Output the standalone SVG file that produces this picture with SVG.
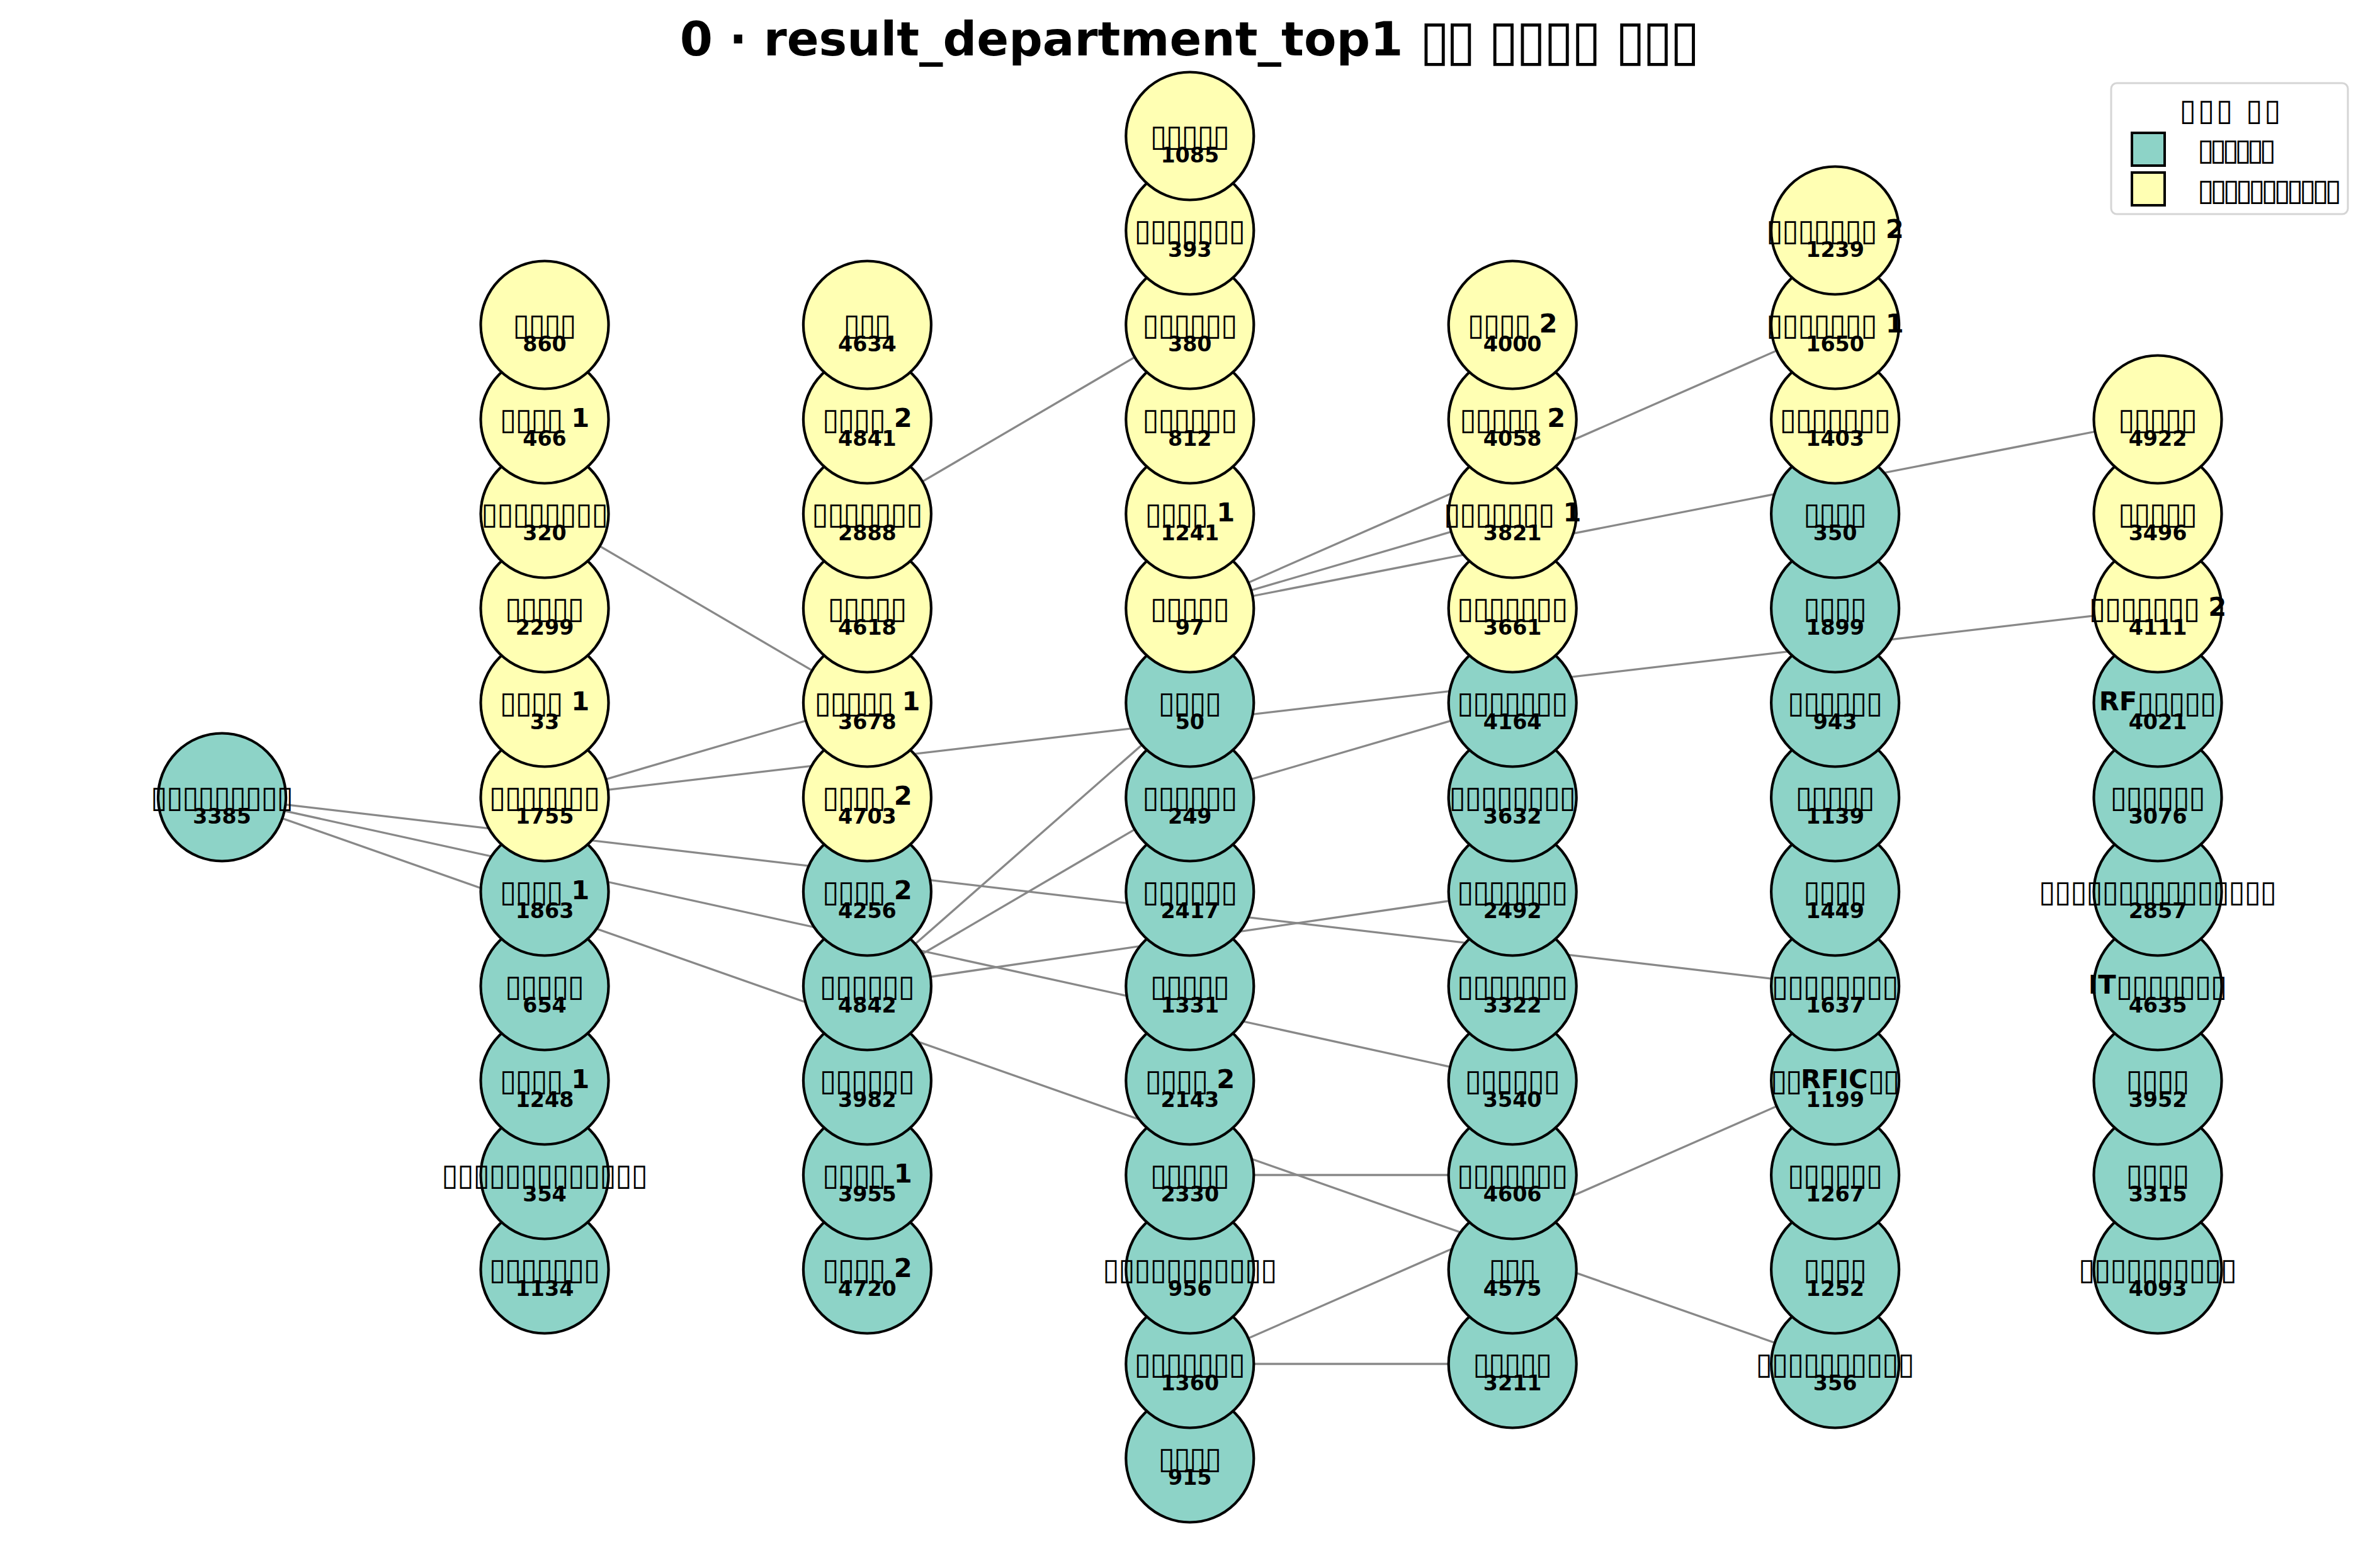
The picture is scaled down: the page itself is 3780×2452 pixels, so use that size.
<svg xmlns="http://www.w3.org/2000/svg" width="3780" height="2452" viewBox="0 0 3780 2452">
<style>
.n circle{stroke:#000;stroke-width:4.2}
.t{fill:#8dd3c7}
.y{fill:#ffffb3}
.lb{font-family:'DejaVu Sans',sans-serif;font-size:41.67px;font-weight:bold;text-anchor:middle;fill:#000}
.bx{font-weight:normal;font-size:48px;baseline-shift:-4px}
.id{font-family:'DejaVu Sans',sans-serif;font-size:33.3px;font-weight:bold;text-anchor:middle;fill:#000}
#edges line{stroke:#888;stroke-width:3.3}
.ttl{font-family:'DejaVu Sans',sans-serif;font-size:75px;font-weight:bold;text-anchor:middle}
.tb{font-size:88px;font-weight:normal;baseline-shift:-6px}
.lg{font-family:'DejaVu Sans',sans-serif;font-size:48px}
</style>
<rect width="3780" height="2452" fill="#fff"/>
<text class="ttl" x="1890" y="88">0 · result_department_top1 <tspan class="tb" textLength="90">▯▯</tspan> <tspan class="tb" textLength="180">▯▯▯▯</tspan> <tspan class="tb" textLength="135">▯▯▯</tspan></text>
<g id="edges">
<line x1="352.6" y1="1266" x2="2914.6" y2="1566"/>
<line x1="352.6" y1="1266" x2="2402.2" y2="1716"/>
<line x1="352.6" y1="1266" x2="2914.6" y2="2166"/>
<line x1="865" y1="816" x2="1377.4" y2="1116"/>
<line x1="865" y1="1266" x2="1377.4" y2="1116"/>
<line x1="865" y1="1266" x2="3427" y2="966"/>
<line x1="1377.4" y1="816" x2="1889.8" y2="516"/>
<line x1="1377.4" y1="1566" x2="1889.8" y2="1116"/>
<line x1="1377.4" y1="1566" x2="1889.8" y2="1266"/>
<line x1="1377.4" y1="1566" x2="2402.2" y2="1416"/>
<line x1="1889.8" y1="1266" x2="2402.2" y2="1116"/>
<line x1="1889.8" y1="966" x2="2914.6" y2="516"/>
<line x1="1889.8" y1="966" x2="2402.2" y2="816"/>
<line x1="1889.8" y1="966" x2="3427" y2="666"/>
<line x1="1889.8" y1="1866" x2="2402.2" y2="1866"/>
<line x1="1889.8" y1="2166" x2="2402.2" y2="2166"/>
<line x1="1889.8" y1="2166" x2="2914.6" y2="1716"/>
</g>
<g id="nodes">
<g id="n915" class="n"><circle class="t" cx="1889.8" cy="2316" r="101.5"/><text class="lb" x="1889.8" y="2328"><tspan class="bx" textLength="100.8">▯▯▯▯</tspan></text><text class="id" x="1889.8" y="2358">915</text></g>
<g id="n1360" class="n"><circle class="t" cx="1889.8" cy="2166" r="101.5"/><text class="lb" x="1889.8" y="2178"><tspan class="bx" textLength="176.4">▯▯▯▯▯▯▯</tspan></text><text class="id" x="1889.8" y="2208">1360</text></g>
<g id="n3211" class="n"><circle class="t" cx="2402.2" cy="2166" r="101.5"/><text class="lb" x="2402.2" y="2178"><tspan class="bx" textLength="126">▯▯▯▯▯</tspan></text><text class="id" x="2402.2" y="2208">3211</text></g>
<g id="n356" class="n"><circle class="t" cx="2914.6" cy="2166" r="101.5"/><text class="lb" x="2914.6" y="2178"><tspan class="bx" textLength="252">▯▯▯▯▯▯▯▯▯▯</tspan></text><text class="id" x="2914.6" y="2208">356</text></g>
<g id="n1134" class="n"><circle class="t" cx="865" cy="2016" r="101.5"/><text class="lb" x="865" y="2028"><tspan class="bx" textLength="176.4">▯▯▯▯▯▯▯</tspan></text><text class="id" x="865" y="2058">1134</text></g>
<g id="n4720" class="n"><circle class="t" cx="1377.4" cy="2016" r="101.5"/><text class="lb" x="1377.4" y="2028"><tspan class="bx" textLength="100.8">▯▯▯▯</tspan> 2</text><text class="id" x="1377.4" y="2058">4720</text></g>
<g id="n956" class="n"><circle class="t" cx="1889.8" cy="2016" r="101.5"/><text class="lb" x="1889.8" y="2028"><tspan class="bx" textLength="277.2">▯▯▯▯▯▯▯▯▯▯▯</tspan></text><text class="id" x="1889.8" y="2058">956</text></g>
<g id="n4575" class="n"><circle class="t" cx="2402.2" cy="2016" r="101.5"/><text class="lb" x="2402.2" y="2028"><tspan class="bx" textLength="75.6">▯▯▯</tspan></text><text class="id" x="2402.2" y="2058">4575</text></g>
<g id="n1252" class="n"><circle class="t" cx="2914.6" cy="2016" r="101.5"/><text class="lb" x="2914.6" y="2028"><tspan class="bx" textLength="100.8">▯▯▯▯</tspan></text><text class="id" x="2914.6" y="2058">1252</text></g>
<g id="n4093" class="n"><circle class="t" cx="3427" cy="2016" r="101.5"/><text class="lb" x="3427" y="2028"><tspan class="bx" textLength="252">▯▯▯▯▯▯▯▯▯▯</tspan></text><text class="id" x="3427" y="2058">4093</text></g>
<g id="n354" class="n"><circle class="t" cx="865" cy="1866" r="101.5"/><text class="lb" x="865" y="1878"><tspan class="bx" textLength="327.6">▯▯▯▯▯▯▯▯▯▯▯▯▯</tspan></text><text class="id" x="865" y="1908">354</text></g>
<g id="n3955" class="n"><circle class="t" cx="1377.4" cy="1866" r="101.5"/><text class="lb" x="1377.4" y="1878"><tspan class="bx" textLength="100.8">▯▯▯▯</tspan> 1</text><text class="id" x="1377.4" y="1908">3955</text></g>
<g id="n2330" class="n"><circle class="t" cx="1889.8" cy="1866" r="101.5"/><text class="lb" x="1889.8" y="1878"><tspan class="bx" textLength="126">▯▯▯▯▯</tspan></text><text class="id" x="1889.8" y="1908">2330</text></g>
<g id="n4606" class="n"><circle class="t" cx="2402.2" cy="1866" r="101.5"/><text class="lb" x="2402.2" y="1878"><tspan class="bx" textLength="176.4">▯▯▯▯▯▯▯</tspan></text><text class="id" x="2402.2" y="1908">4606</text></g>
<g id="n1267" class="n"><circle class="t" cx="2914.6" cy="1866" r="101.5"/><text class="lb" x="2914.6" y="1878"><tspan class="bx" textLength="151.2">▯▯▯▯▯▯</tspan></text><text class="id" x="2914.6" y="1908">1267</text></g>
<g id="n3315" class="n"><circle class="t" cx="3427" cy="1866" r="101.5"/><text class="lb" x="3427" y="1878"><tspan class="bx" textLength="100.8">▯▯▯▯</tspan></text><text class="id" x="3427" y="1908">3315</text></g>
<g id="n1248" class="n"><circle class="t" cx="865" cy="1716" r="101.5"/><text class="lb" x="865" y="1728"><tspan class="bx" textLength="100.8">▯▯▯▯</tspan> 1</text><text class="id" x="865" y="1758">1248</text></g>
<g id="n3982" class="n"><circle class="t" cx="1377.4" cy="1716" r="101.5"/><text class="lb" x="1377.4" y="1728"><tspan class="bx" textLength="151.2">▯▯▯▯▯▯</tspan></text><text class="id" x="1377.4" y="1758">3982</text></g>
<g id="n2143" class="n"><circle class="t" cx="1889.8" cy="1716" r="101.5"/><text class="lb" x="1889.8" y="1728"><tspan class="bx" textLength="100.8">▯▯▯▯</tspan> 2</text><text class="id" x="1889.8" y="1758">2143</text></g>
<g id="n3540" class="n"><circle class="t" cx="2402.2" cy="1716" r="101.5"/><text class="lb" x="2402.2" y="1728"><tspan class="bx" textLength="151.2">▯▯▯▯▯▯</tspan></text><text class="id" x="2402.2" y="1758">3540</text></g>
<g id="n1199" class="n"><circle class="t" cx="2914.6" cy="1716" r="101.5"/><text class="lb" x="2914.6" y="1728"><tspan class="bx" textLength="50.4">▯▯</tspan>RFIC<tspan class="bx" textLength="50.4">▯▯</tspan></text><text class="id" x="2914.6" y="1758">1199</text></g>
<g id="n3952" class="n"><circle class="t" cx="3427" cy="1716" r="101.5"/><text class="lb" x="3427" y="1728"><tspan class="bx" textLength="100.8">▯▯▯▯</tspan></text><text class="id" x="3427" y="1758">3952</text></g>
<g id="n654" class="n"><circle class="t" cx="865" cy="1566" r="101.5"/><text class="lb" x="865" y="1578"><tspan class="bx" textLength="126">▯▯▯▯▯</tspan></text><text class="id" x="865" y="1608">654</text></g>
<g id="n4842" class="n"><circle class="t" cx="1377.4" cy="1566" r="101.5"/><text class="lb" x="1377.4" y="1578"><tspan class="bx" textLength="151.2">▯▯▯▯▯▯</tspan></text><text class="id" x="1377.4" y="1608">4842</text></g>
<g id="n1331" class="n"><circle class="t" cx="1889.8" cy="1566" r="101.5"/><text class="lb" x="1889.8" y="1578"><tspan class="bx" textLength="126">▯▯▯▯▯</tspan></text><text class="id" x="1889.8" y="1608">1331</text></g>
<g id="n3322" class="n"><circle class="t" cx="2402.2" cy="1566" r="101.5"/><text class="lb" x="2402.2" y="1578"><tspan class="bx" textLength="176.4">▯▯▯▯▯▯▯</tspan></text><text class="id" x="2402.2" y="1608">3322</text></g>
<g id="n1637" class="n"><circle class="t" cx="2914.6" cy="1566" r="101.5"/><text class="lb" x="2914.6" y="1578"><tspan class="bx" textLength="201.6">▯▯▯▯▯▯▯▯</tspan></text><text class="id" x="2914.6" y="1608">1637</text></g>
<g id="n4635" class="n"><circle class="t" cx="3427" cy="1566" r="101.5"/><text class="lb" x="3427" y="1578">IT<tspan class="bx" textLength="176.4">▯▯▯▯▯▯▯</tspan></text><text class="id" x="3427" y="1608">4635</text></g>
<g id="n1863" class="n"><circle class="t" cx="865" cy="1416" r="101.5"/><text class="lb" x="865" y="1428"><tspan class="bx" textLength="100.8">▯▯▯▯</tspan> 1</text><text class="id" x="865" y="1458">1863</text></g>
<g id="n4256" class="n"><circle class="t" cx="1377.4" cy="1416" r="101.5"/><text class="lb" x="1377.4" y="1428"><tspan class="bx" textLength="100.8">▯▯▯▯</tspan> 2</text><text class="id" x="1377.4" y="1458">4256</text></g>
<g id="n2417" class="n"><circle class="t" cx="1889.8" cy="1416" r="101.5"/><text class="lb" x="1889.8" y="1428"><tspan class="bx" textLength="151.2">▯▯▯▯▯▯</tspan></text><text class="id" x="1889.8" y="1458">2417</text></g>
<g id="n2492" class="n"><circle class="t" cx="2402.2" cy="1416" r="101.5"/><text class="lb" x="2402.2" y="1428"><tspan class="bx" textLength="176.4">▯▯▯▯▯▯▯</tspan></text><text class="id" x="2402.2" y="1458">2492</text></g>
<g id="n1449" class="n"><circle class="t" cx="2914.6" cy="1416" r="101.5"/><text class="lb" x="2914.6" y="1428"><tspan class="bx" textLength="100.8">▯▯▯▯</tspan></text><text class="id" x="2914.6" y="1458">1449</text></g>
<g id="n2857" class="n"><circle class="t" cx="3427" cy="1416" r="101.5"/><text class="lb" x="3427" y="1428"><tspan class="bx" textLength="378">▯▯▯▯▯▯▯▯▯▯▯▯▯▯▯</tspan></text><text class="id" x="3427" y="1458">2857</text></g>
<g id="n3385" class="n"><circle class="t" cx="352.6" cy="1266" r="101.5"/><text class="lb" x="352.6" y="1278"><tspan class="bx" textLength="226.8">▯▯▯▯▯▯▯▯▯</tspan></text><text class="id" x="352.6" y="1308">3385</text></g>
<g id="n1755" class="n"><circle class="y" cx="865" cy="1266" r="101.5"/><text class="lb" x="865" y="1278"><tspan class="bx" textLength="176.4">▯▯▯▯▯▯▯</tspan></text><text class="id" x="865" y="1308">1755</text></g>
<g id="n4703" class="n"><circle class="y" cx="1377.4" cy="1266" r="101.5"/><text class="lb" x="1377.4" y="1278"><tspan class="bx" textLength="100.8">▯▯▯▯</tspan> 2</text><text class="id" x="1377.4" y="1308">4703</text></g>
<g id="n249" class="n"><circle class="t" cx="1889.8" cy="1266" r="101.5"/><text class="lb" x="1889.8" y="1278"><tspan class="bx" textLength="151.2">▯▯▯▯▯▯</tspan></text><text class="id" x="1889.8" y="1308">249</text></g>
<g id="n3632" class="n"><circle class="t" cx="2402.2" cy="1266" r="101.5"/><text class="lb" x="2402.2" y="1278"><tspan class="bx" textLength="201.6">▯▯▯▯▯▯▯▯</tspan></text><text class="id" x="2402.2" y="1308">3632</text></g>
<g id="n1139" class="n"><circle class="t" cx="2914.6" cy="1266" r="101.5"/><text class="lb" x="2914.6" y="1278"><tspan class="bx" textLength="126">▯▯▯▯▯</tspan></text><text class="id" x="2914.6" y="1308">1139</text></g>
<g id="n3076" class="n"><circle class="t" cx="3427" cy="1266" r="101.5"/><text class="lb" x="3427" y="1278"><tspan class="bx" textLength="151.2">▯▯▯▯▯▯</tspan></text><text class="id" x="3427" y="1308">3076</text></g>
<g id="n33" class="n"><circle class="y" cx="865" cy="1116" r="101.5"/><text class="lb" x="865" y="1128"><tspan class="bx" textLength="100.8">▯▯▯▯</tspan> 1</text><text class="id" x="865" y="1158">33</text></g>
<g id="n3678" class="n"><circle class="y" cx="1377.4" cy="1116" r="101.5"/><text class="lb" x="1377.4" y="1128"><tspan class="bx" textLength="126">▯▯▯▯▯</tspan> 1</text><text class="id" x="1377.4" y="1158">3678</text></g>
<g id="n50" class="n"><circle class="t" cx="1889.8" cy="1116" r="101.5"/><text class="lb" x="1889.8" y="1128"><tspan class="bx" textLength="100.8">▯▯▯▯</tspan></text><text class="id" x="1889.8" y="1158">50</text></g>
<g id="n4164" class="n"><circle class="t" cx="2402.2" cy="1116" r="101.5"/><text class="lb" x="2402.2" y="1128"><tspan class="bx" textLength="176.4">▯▯▯▯▯▯▯</tspan></text><text class="id" x="2402.2" y="1158">4164</text></g>
<g id="n943" class="n"><circle class="t" cx="2914.6" cy="1116" r="101.5"/><text class="lb" x="2914.6" y="1128"><tspan class="bx" textLength="151.2">▯▯▯▯▯▯</tspan></text><text class="id" x="2914.6" y="1158">943</text></g>
<g id="n4021" class="n"><circle class="t" cx="3427" cy="1116" r="101.5"/><text class="lb" x="3427" y="1128">RF<tspan class="bx" textLength="126">▯▯▯▯▯</tspan></text><text class="id" x="3427" y="1158">4021</text></g>
<g id="n2299" class="n"><circle class="y" cx="865" cy="966" r="101.5"/><text class="lb" x="865" y="978"><tspan class="bx" textLength="126">▯▯▯▯▯</tspan></text><text class="id" x="865" y="1008">2299</text></g>
<g id="n4618" class="n"><circle class="y" cx="1377.4" cy="966" r="101.5"/><text class="lb" x="1377.4" y="978"><tspan class="bx" textLength="126">▯▯▯▯▯</tspan></text><text class="id" x="1377.4" y="1008">4618</text></g>
<g id="n97" class="n"><circle class="y" cx="1889.8" cy="966" r="101.5"/><text class="lb" x="1889.8" y="978"><tspan class="bx" textLength="126">▯▯▯▯▯</tspan></text><text class="id" x="1889.8" y="1008">97</text></g>
<g id="n3661" class="n"><circle class="y" cx="2402.2" cy="966" r="101.5"/><text class="lb" x="2402.2" y="978"><tspan class="bx" textLength="176.4">▯▯▯▯▯▯▯</tspan></text><text class="id" x="2402.2" y="1008">3661</text></g>
<g id="n1899" class="n"><circle class="t" cx="2914.6" cy="966" r="101.5"/><text class="lb" x="2914.6" y="978"><tspan class="bx" textLength="100.8">▯▯▯▯</tspan></text><text class="id" x="2914.6" y="1008">1899</text></g>
<g id="n4111" class="n"><circle class="y" cx="3427" cy="966" r="101.5"/><text class="lb" x="3427" y="978"><tspan class="bx" textLength="176.4">▯▯▯▯▯▯▯</tspan> 2</text><text class="id" x="3427" y="1008">4111</text></g>
<g id="n320" class="n"><circle class="y" cx="865" cy="816" r="101.5"/><text class="lb" x="865" y="828"><tspan class="bx" textLength="201.6">▯▯▯▯▯▯▯▯</tspan></text><text class="id" x="865" y="858">320</text></g>
<g id="n2888" class="n"><circle class="y" cx="1377.4" cy="816" r="101.5"/><text class="lb" x="1377.4" y="828"><tspan class="bx" textLength="176.4">▯▯▯▯▯▯▯</tspan></text><text class="id" x="1377.4" y="858">2888</text></g>
<g id="n1241" class="n"><circle class="y" cx="1889.8" cy="816" r="101.5"/><text class="lb" x="1889.8" y="828"><tspan class="bx" textLength="100.8">▯▯▯▯</tspan> 1</text><text class="id" x="1889.8" y="858">1241</text></g>
<g id="n3821" class="n"><circle class="y" cx="2402.2" cy="816" r="101.5"/><text class="lb" x="2402.2" y="828"><tspan class="bx" textLength="176.4">▯▯▯▯▯▯▯</tspan> 1</text><text class="id" x="2402.2" y="858">3821</text></g>
<g id="n350" class="n"><circle class="t" cx="2914.6" cy="816" r="101.5"/><text class="lb" x="2914.6" y="828"><tspan class="bx" textLength="100.8">▯▯▯▯</tspan></text><text class="id" x="2914.6" y="858">350</text></g>
<g id="n3496" class="n"><circle class="y" cx="3427" cy="816" r="101.5"/><text class="lb" x="3427" y="828"><tspan class="bx" textLength="126">▯▯▯▯▯</tspan></text><text class="id" x="3427" y="858">3496</text></g>
<g id="n466" class="n"><circle class="y" cx="865" cy="666" r="101.5"/><text class="lb" x="865" y="678"><tspan class="bx" textLength="100.8">▯▯▯▯</tspan> 1</text><text class="id" x="865" y="708">466</text></g>
<g id="n4841" class="n"><circle class="y" cx="1377.4" cy="666" r="101.5"/><text class="lb" x="1377.4" y="678"><tspan class="bx" textLength="100.8">▯▯▯▯</tspan> 2</text><text class="id" x="1377.4" y="708">4841</text></g>
<g id="n812" class="n"><circle class="y" cx="1889.8" cy="666" r="101.5"/><text class="lb" x="1889.8" y="678"><tspan class="bx" textLength="151.2">▯▯▯▯▯▯</tspan></text><text class="id" x="1889.8" y="708">812</text></g>
<g id="n4058" class="n"><circle class="y" cx="2402.2" cy="666" r="101.5"/><text class="lb" x="2402.2" y="678"><tspan class="bx" textLength="126">▯▯▯▯▯</tspan> 2</text><text class="id" x="2402.2" y="708">4058</text></g>
<g id="n1403" class="n"><circle class="y" cx="2914.6" cy="666" r="101.5"/><text class="lb" x="2914.6" y="678"><tspan class="bx" textLength="176.4">▯▯▯▯▯▯▯</tspan></text><text class="id" x="2914.6" y="708">1403</text></g>
<g id="n4922" class="n"><circle class="y" cx="3427" cy="666" r="101.5"/><text class="lb" x="3427" y="678"><tspan class="bx" textLength="126">▯▯▯▯▯</tspan></text><text class="id" x="3427" y="708">4922</text></g>
<g id="n860" class="n"><circle class="y" cx="865" cy="516" r="101.5"/><text class="lb" x="865" y="528"><tspan class="bx" textLength="100.8">▯▯▯▯</tspan></text><text class="id" x="865" y="558">860</text></g>
<g id="n4634" class="n"><circle class="y" cx="1377.4" cy="516" r="101.5"/><text class="lb" x="1377.4" y="528"><tspan class="bx" textLength="75.6">▯▯▯</tspan></text><text class="id" x="1377.4" y="558">4634</text></g>
<g id="n380" class="n"><circle class="y" cx="1889.8" cy="516" r="101.5"/><text class="lb" x="1889.8" y="528"><tspan class="bx" textLength="151.2">▯▯▯▯▯▯</tspan></text><text class="id" x="1889.8" y="558">380</text></g>
<g id="n4000" class="n"><circle class="y" cx="2402.2" cy="516" r="101.5"/><text class="lb" x="2402.2" y="528"><tspan class="bx" textLength="100.8">▯▯▯▯</tspan> 2</text><text class="id" x="2402.2" y="558">4000</text></g>
<g id="n1650" class="n"><circle class="y" cx="2914.6" cy="516" r="101.5"/><text class="lb" x="2914.6" y="528"><tspan class="bx" textLength="176.4">▯▯▯▯▯▯▯</tspan> 1</text><text class="id" x="2914.6" y="558">1650</text></g>
<g id="n393" class="n"><circle class="y" cx="1889.8" cy="366" r="101.5"/><text class="lb" x="1889.8" y="378"><tspan class="bx" textLength="176.4">▯▯▯▯▯▯▯</tspan></text><text class="id" x="1889.8" y="408">393</text></g>
<g id="n1239" class="n"><circle class="y" cx="2914.6" cy="366" r="101.5"/><text class="lb" x="2914.6" y="378"><tspan class="bx" textLength="176.4">▯▯▯▯▯▯▯</tspan> 2</text><text class="id" x="2914.6" y="408">1239</text></g>
<g id="n1085" class="n"><circle class="y" cx="1889.8" cy="216" r="101.5"/><text class="lb" x="1889.8" y="228"><tspan class="bx" textLength="126">▯▯▯▯▯</tspan></text><text class="id" x="1889.8" y="258">1085</text></g>
</g>
<g id="legend">
<rect x="3353" y="132" width="376" height="208" rx="9" fill="#fff" fill-opacity="0.8" stroke="#d5d5d5" stroke-width="3"/>
<text class="lg" x="3542" y="191" font-size="60" text-anchor="middle" textLength="161">▯▯▯ ▯▯</text>
<rect x="3386" y="211" width="52" height="52" fill="#8dd3c7" stroke="#000" stroke-width="4"/>
<rect x="3386" y="274" width="52" height="52" fill="#ffffb3" stroke="#000" stroke-width="4"/>
<text class="lg" x="3490" y="254" textLength="125">▯▯▯▯▯▯</text>
<text class="lg" x="3490" y="318" textLength="229">▯▯▯▯▯▯▯▯▯▯▯</text>
</g>
</svg>
